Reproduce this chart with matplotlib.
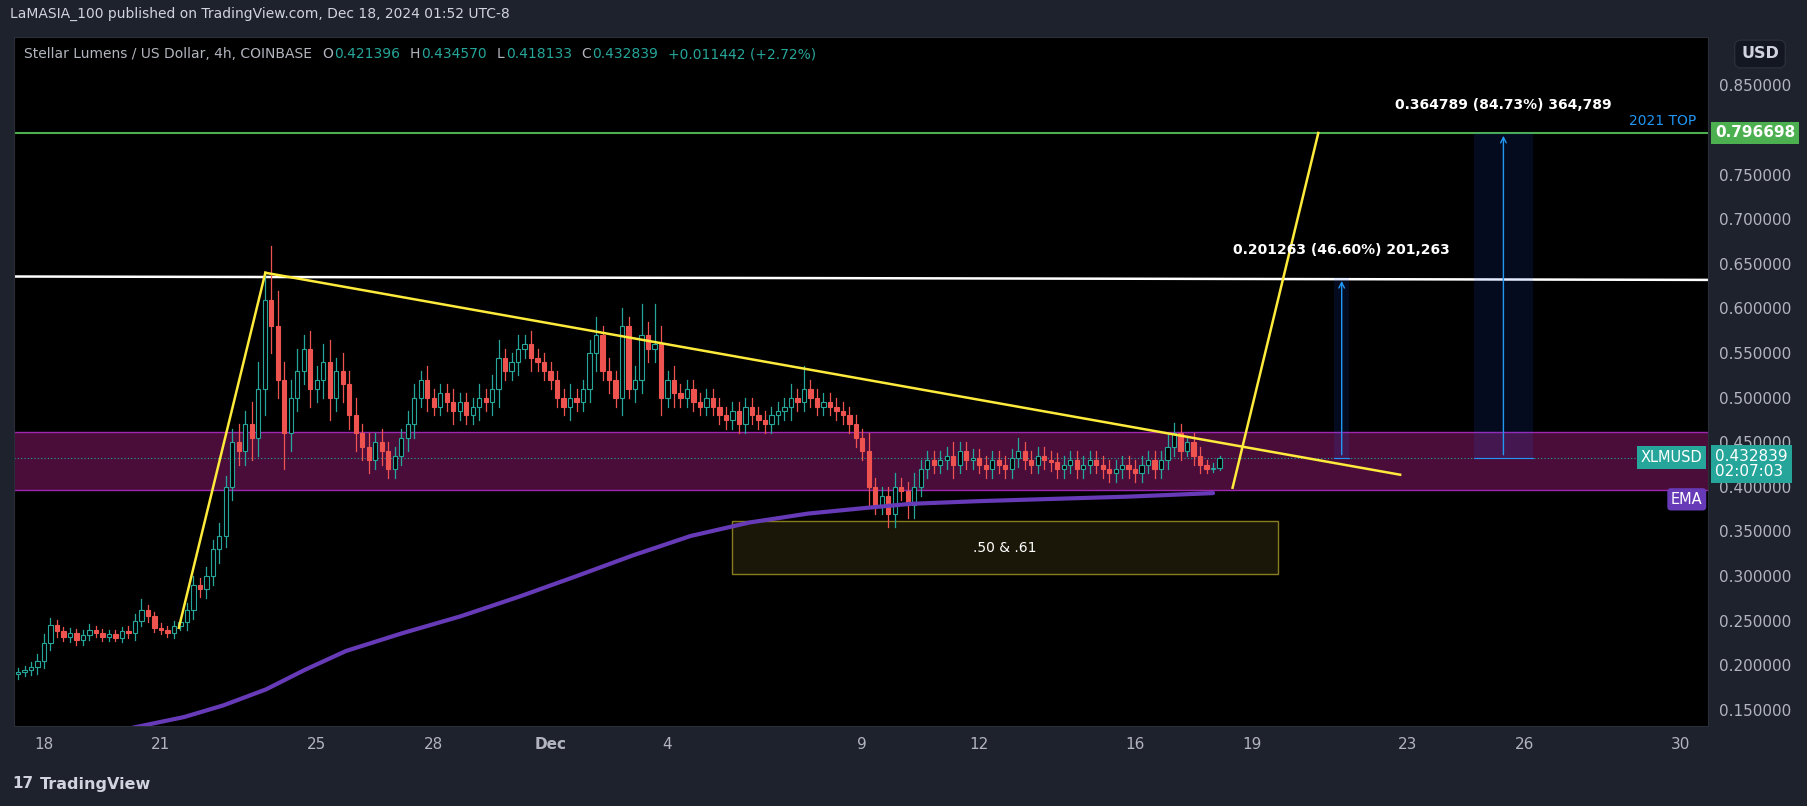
import matplotlib
matplotlib.use("Agg")
import matplotlib.pyplot as plt
from matplotlib.patches import Rectangle
import numpy as np

# ---------------- data ----------------
# 4h closes, first candle starts at day -0.667 (day 0 = Nov 18)
closes_by_day = [
    [0.192, 0.195, 0.198, 0.205],
    [0.225, 0.245, 0.238, 0.232, 0.236, 0.228],
    [0.234, 0.240, 0.236, 0.232, 0.235, 0.231],
    [0.238, 0.236, 0.250, 0.262, 0.255, 0.242],
    [0.240, 0.236, 0.244, 0.248, 0.262, 0.290],
    [0.285, 0.300, 0.330, 0.345, 0.400, 0.450],
    [0.440, 0.470, 0.455, 0.510, 0.610, 0.580],
    [0.520, 0.460, 0.500, 0.530, 0.555, 0.510],
    [0.520, 0.540, 0.500, 0.530, 0.515, 0.480],
    [0.460, 0.445, 0.430, 0.450, 0.440, 0.420],
    [0.435, 0.455, 0.470, 0.500, 0.520, 0.500],
    [0.490, 0.505, 0.495, 0.485, 0.495, 0.480],
    [0.490, 0.500, 0.495, 0.510, 0.545, 0.530],
    [0.540, 0.555, 0.560, 0.545, 0.540, 0.530],
    [0.520, 0.500, 0.490, 0.500, 0.495, 0.510],
    [0.550, 0.570, 0.530, 0.520, 0.500, 0.580],
    [0.510, 0.520, 0.570, 0.555, 0.560, 0.500],
    [0.520, 0.505, 0.500, 0.510, 0.495, 0.490],
    [0.500, 0.490, 0.480, 0.475, 0.485, 0.470],
    [0.490, 0.480, 0.475, 0.470, 0.480, 0.485],
    [0.490, 0.500, 0.495, 0.510, 0.500, 0.490],
    [0.495, 0.490, 0.485, 0.480, 0.470, 0.455],
    [0.440, 0.400, 0.380, 0.390, 0.370, 0.400],
    [0.395, 0.380, 0.400, 0.420, 0.430, 0.425],
    [0.430, 0.435, 0.425, 0.440, 0.430, 0.432],
    [0.425, 0.420, 0.430, 0.425, 0.420, 0.432],
    [0.440, 0.430, 0.425, 0.435, 0.430, 0.428],
    [0.420, 0.425, 0.430, 0.420, 0.425, 0.430],
    [0.425, 0.420, 0.415, 0.420, 0.425, 0.420],
    [0.415, 0.425, 0.430, 0.420, 0.430, 0.445],
    [0.460, 0.440, 0.450, 0.435, 0.425, 0.420],
    [0.421396, 0.432839],
]
# upper / lower wick lengths (thousandths)
wick_up_by_day = [
    [5, 4, 6, 8], [10, 8, 6, 5, 6, 5], [5, 6, 4, 5, 5, 4], [5, 6, 8, 12, 6, 5],
    [5, 4, 6, 5, 8, 10], [8, 10, 10, 15, 12, 15], [20, 15, 25, 30, 30, 60],
    [40, 20, 20, 25, 15, 20], [15, 20, 25, 15, 20, 15], [20, 10, 15, 10, 15, 10],
    [10, 10, 15, 15, 10, 15], [10, 10, 10, 15, 10, 10], [10, 15, 10, 15, 20, 10],
    [10, 15, 10, 15, 10, 10], [10, 10, 10, 15, 10, 10], [15, 20, 10, 15, 10, 20],
    [10, 15, 35, 15, 45, 20], [10, 15, 10, 10, 10, 10], [10, 10, 10, 10, 10, 10],
    [10, 10, 10, 10, 10, 10], [10, 15, 10, 25, 10, 10], [10, 10, 10, 10, 10, 10],
    [10, 20, 10, 10, 10, 15], [10, 10, 15, 10, 10, 10], [10, 10, 15, 10, 10, 10],
    [10, 10, 10, 10, 10, 10], [15, 10, 10, 10, 10, 10], [10, 10, 10, 10, 10, 10],
    [10, 10, 10, 10, 10, 10], [10, 10, 10, 10, 10, 15], [12, 10, 5, 10, 10, 5],
    [5, 2],
]
wick_dn_by_day = [
    [5, 4, 6, 8], [8, 8, 6, 5, 6, 5], [5, 6, 4, 5, 5, 4], [5, 6, 8, 6, 6, 5],
    [5, 4, 6, 5, 8, 10], [8, 10, 10, 15, 12, 15], [15, 15, 25, 20, 30, 30],
    [20, 40, 20, 15, 15, 20], [15, 20, 25, 15, 20, 15], [20, 15, 15, 10, 15, 10],
    [10, 10, 15, 15, 10, 15], [10, 10, 10, 15, 10, 10], [10, 15, 10, 15, 20, 10],
    [10, 15, 10, 15, 10, 10], [10, 10, 10, 15, 10, 10], [15, 20, 10, 15, 10, 20],
    [10, 15, 15, 15, 15, 20], [10, 15, 10, 10, 10, 10], [10, 10, 10, 10, 10, 10],
    [10, 10, 10, 10, 10, 10], [10, 15, 10, 10, 10, 10], [10, 10, 10, 10, 10, 10],
    [10, 20, 10, 10, 15, 15], [10, 15, 15, 10, 10, 10], [10, 10, 15, 10, 10, 10],
    [10, 10, 10, 10, 10, 10], [10, 10, 10, 10, 10, 10], [10, 10, 10, 10, 10, 10],
    [10, 10, 10, 10, 10, 10], [10, 10, 10, 10, 10, 10], [10, 10, 5, 10, 10, 5],
    [3, 2],
]
ema_days = [2.28, 3.6, 4.6, 5.7, 6.7, 7.75, 9.2, 10.7, 12.2, 13.67, 15.1, 16.6, 18.1,
            19.6, 21.0, 22.25, 24.0, 25.5, 27.8, 30.0]
ema_vals = [0.130, 0.142, 0.155, 0.173, 0.195, 0.216, 0.236, 0.255, 0.277, 0.300, 0.323,
            0.345, 0.360, 0.370, 0.376, 0.381, 0.384, 0.386, 0.389, 0.393]

date_ticks = [0, 3, 7, 10, 13, 16, 21, 24, 28, 31, 35, 38, 42]
date_labels = ["18", "21", "25", "28", "Dec", "4", "9", "12", "16", "19", "23", "26", "30"]
price_ticks = [0.15, 0.20, 0.25, 0.30, 0.35, 0.40, 0.45, 0.50, 0.55, 0.60, 0.65, 0.70, 0.75, 0.85]

top_2021 = 0.796698
last_price = 0.432839
resist = (0.6358, 0.632)
zone = (0.397, 0.461)
fib_box = (17.66, 31.66, 0.302, 0.362)
tri_up = ([3.46, 5.68], [0.242, 0.640])
tri_down = ([5.68, 34.8], [0.640, 0.4136])
proj = ([30.5, 32.7], [0.399, 0.7967])

# ---------------- figure ----------------
W, H = 1807, 806
BG = "#1e222d"
fig = plt.figure(figsize=(W / 100, H / 100), dpi=100, facecolor=BG)
ax = fig.add_axes([14 / W, 1 - 726 / H, 1694 / W, 689 / H])
ax.set_facecolor("black")
xmin, xmax = -0.77, 42.7
ymin, ymax = 0.1319, 0.9043
ax.set_xlim(xmin, xmax)
ax.set_ylim(ymin, ymax)

closes = [c for d in closes_by_day for c in d]
wu = [w / 1000 for d in wick_up_by_day for w in d]
wd = [w / 1000 for d in wick_dn_by_day for w in d]
n = len(closes)
start = -0.667
step = 1 / 6
UP, DN = "#26a69a", "#ef5350"
prev = 0.190
for i, c in enumerate(closes):
    o = prev if i < n - 1 else 0.421396
    x = start + i * step
    col = UP if c >= o else DN
    hi = max(o, c) + wu[i]
    lo = min(o, c) - wd[i]
    ax.plot([x, x], [lo, hi], color=col, lw=0.9, zorder=3)
    b = abs(c - o)
    ax.add_patch(Rectangle((x - 0.055, min(o, c)), 0.11, max(b, 0.0015),
                           facecolor=col if col == DN else "black", edgecolor=col, lw=0.8, zorder=4))
    prev = c

# zone
ax.add_patch(Rectangle((xmin, zone[0]), xmax - xmin, zone[1] - zone[0],
                       facecolor="#4a0d3a", edgecolor="none", zorder=1))
ax.axhline(zone[0], color="#9c27b0", lw=1, zorder=2)
ax.axhline(zone[1], color="#9c27b0", lw=1, zorder=2)
# fib box
ax.add_patch(Rectangle((fib_box[0], fib_box[2]), fib_box[1] - fib_box[0], fib_box[3] - fib_box[2],
                       facecolor="#1a1708", edgecolor="#8a7d1e", lw=1, zorder=1))
ax.text((fib_box[0] + fib_box[1]) / 2, (fib_box[2] + fib_box[3]) / 2, ".50 & .61",
        color="white", fontsize=10, ha="center", va="center", zorder=6)
# ema
ax.plot(ema_days, ema_vals, color="#673ab7", lw=3, zorder=5, solid_capstyle="round")
# lines
ax.axhline(top_2021, color="#4caf50", lw=1.5, zorder=2)
ax.plot([xmin, xmax], list(resist), color="white", lw=1.8, zorder=2)
ax.plot(*tri_up, color="#ffeb3b", lw=1.8, zorder=6)
ax.plot(*tri_down, color="#ffeb3b", lw=1.8, zorder=6)
ax.plot(*proj, color="#ffeb3b", lw=1.8, zorder=6)
ax.axhline(last_price, color="#26a69a", lw=0.8, ls=(0, (1, 2)), zorder=2)

# measure tools
for (x0, x1, y1, lbl, ly) in [(33.1, 33.5, 0.634, "0.201263 (46.60%) 201,263", 0.665),
                              (36.7, 38.2, top_2021, "0.364789 (84.73%) 364,789", 0.828)]:
    ax.add_patch(Rectangle((x0, last_price), x1 - x0, y1 - last_price,
                           facecolor="#2962ff", alpha=0.12, edgecolor="none", zorder=2))
    xm = (x0 + x1) / 2
    ax.annotate("", xy=(xm, y1), xytext=(xm, last_price),
                arrowprops=dict(arrowstyle="->", color="#2196f3", lw=1), zorder=6)
    ax.plot([x0, x1], [last_price, last_price], color="#2196f3", lw=0.8, zorder=6)
    ax.text(xm, ly, lbl, color="white", fontsize=10, ha="center", va="center",
            fontweight="bold", zorder=7)
ax.text(xmax - 0.3, top_2021 + 0.006, "2021 TOP", color="#2196f3", fontsize=10,
        ha="right", va="bottom")

# axes styling
for s in ax.spines.values():
    s.set_color("#2a2e39")
ax.yaxis.tick_right()
ax.set_yticks(price_ticks)
ax.set_yticklabels([f"{p:.6f}" for p in price_ticks])
ax.set_xticks(date_ticks)
ax.set_xticklabels(date_labels)
ax.tick_params(axis="both", colors="#b2b5be", labelsize=11, length=0, pad=8)
for t in ax.get_xticklabels():
    if t.get_text() == "Dec":
        t.set_fontweight("bold")

# price axis tags
def ytofig(p):
    return (1 - 726 / H) + (p - ymin) / (ymax - ymin) * (689 / H)

axr = 1708 / W
fig.text(axr + 0.004, ytofig(top_2021), "0.796698", color="white", fontsize=11, fontweight="bold",
         va="center", ha="left", bbox=dict(boxstyle="square,pad=0.25", fc="#4caf50", ec="none"))
fig.text(axr + 0.004, ytofig(last_price) - 0.008, "0.432839\n02:07:03", color="white", fontsize=11,
         va="center", ha="left", linespacing=1.0,
         bbox=dict(boxstyle="square,pad=0.25", fc="#26a69a", ec="none"))
fig.text(axr - 0.003, ytofig(last_price), "XLMUSD", color="white", fontsize=10.5, va="center",
         ha="right", bbox=dict(boxstyle="square,pad=0.25", fc="#26a69a", ec="none"))
fig.text(axr - 0.003, ytofig(0.386), "EMA", color="white", fontsize=10.5, va="center",
         ha="right", bbox=dict(boxstyle="round,pad=0.25", fc="#673ab7", ec="none"))
fig.text(1760 / W, 1 - 54 / H, "USD", color="#d1d4dc", fontsize=11.5, va="center", ha="center",
         fontweight="bold", bbox=dict(boxstyle="round,pad=0.4", fc="#131722", ec="#2a2e39"))

# header/footer
fig.text(10 / W, 1 - 14 / H, "LaMASIA_100 published on TradingView.com, Dec 18, 2024 01:52 UTC-8",
         color="#d1d4dc", fontsize=10, va="center")
renderer = fig.canvas.get_renderer()
hy = 1 - 54 / H
t0 = fig.text(24 / W, hy, "Stellar Lumens / US Dollar, 4h, COINBASE", color="#b2b5be",
              fontsize=10, va="center")
xpx = t0.get_window_extent(renderer).x1 + 10
hdr = [("O", "0.421396"), ("H", "0.434570"), ("L", "0.418133"), ("C", "0.432839"),
       ("", "+0.011442 (+2.72%)")]
for k, v in hdr:
    if k:
        t = fig.text(xpx / W, hy, k, color="#b2b5be", fontsize=10, va="center")
        xpx = t.get_window_extent(renderer).x1 + 1
    t = fig.text(xpx / W, hy, v, color="#26a69a", fontsize=10, va="center")
    xpx = t.get_window_extent(renderer).x1 + 10
fig.text(40 / W, 1 - 784 / H, "TradingView", color="#d1d4dc", fontsize=11.5, va="center",
         fontweight="bold")
fig.text(12 / W, 1 - 784 / H, "17", color="#d1d4dc", fontsize=11, va="center", fontweight="bold")

fig.savefig("out.png", dpi=100, facecolor=BG)
